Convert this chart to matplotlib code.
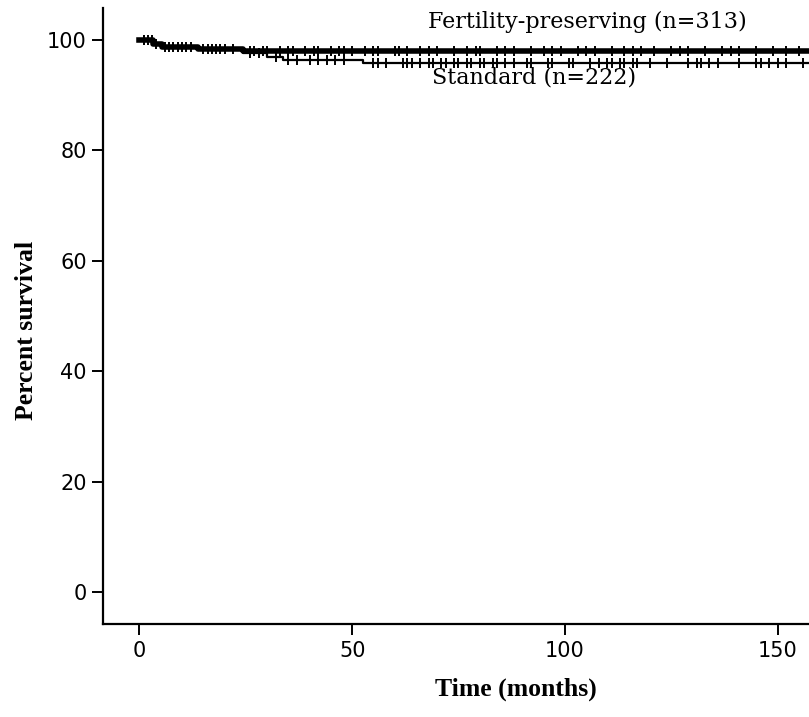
import numpy as np
import matplotlib.pyplot as plt

# Kaplan-Meier step curves (time in months, percent surviving)
fert_times = [0, 3.2, 5.3, 13.8, 24.4, 160]
fert_surv = [100, 99.3, 98.8, 98.3, 98.0, 98.0]
std_times = [0, 3.2, 5.3, 13.8, 24.4, 30.0, 33.8, 52.6, 160]
std_surv = [100, 99.3, 98.8, 98.3, 97.6, 97.0, 96.4, 95.8, 95.8]

# censored observations
fert_cens = [1, 2, 4, 7, 8, 9, 11, 12, 16, 17, 18, 20, 22, 26, 27, 29, 30,
             33, 35, 36, 39, 41, 42, 45, 47, 48, 50, 53, 55, 56, 60, 61, 63,
             66, 68, 70, 74, 77, 79, 80, 84, 86, 88, 92, 95, 97, 99, 103, 105,
             107, 111, 114, 116, 118, 121, 125, 127, 129, 133, 137, 139, 141,
             145, 149, 152, 155]
std_cens = [1, 3, 6, 10, 15, 19, 26, 28, 32, 35, 37, 40, 42, 44, 46, 48, 55,
            56, 58, 62, 63, 64, 66, 68, 69, 71, 72, 74, 75, 77, 78, 80, 81,
            83, 84, 86, 88, 91, 92, 96, 97, 101, 102, 106, 108, 110, 111, 113,
            114, 116, 117, 120, 124, 129, 131, 132, 134, 136, 141, 145, 146,
            148, 150, 152, 156]

x_ticks = [0, 50, 100, 150]
y_ticks = [0, 20, 40, 60, 80, 100]
labels = ['Fertility-preserving (n=313)', 'Standard (n=222)']

tick_font = ['DejaVu Sans Condensed', 'Liberation Sans Narrow', 'DejaVu Sans']


def surv_at(times, surv, t):
    idx = np.searchsorted(times, t, side='right') - 1
    return np.array(surv)[idx]


fig = plt.figure(figsize=(8.09, 7.17), dpi=100)
ax = fig.add_axes([0.1277, 0.1297, 0.8723, 0.8591])

ax.step(std_times, std_surv, where='post', color='black', lw=1.6)
ax.plot(std_cens, surv_at(std_times, std_surv, std_cens), linestyle='none',
        marker='|', color='black', markersize=7, markeredgewidth=1.4)
ax.step(fert_times, fert_surv, where='post', color='black', lw=4)
ax.plot(fert_cens, surv_at(fert_times, fert_surv, fert_cens), linestyle='none',
        marker='|', color='black', markersize=7, markeredgewidth=1.4)

ax.text(67.9, 103.2, labels[0], family='DejaVu Serif', fontsize=16,
        ha='left', va='center')
ax.text(68.8, 93.3, labels[1], family='DejaVu Serif', fontsize=16,
        ha='left', va='center')

ax.set_xlim(-8.5, 157.4)
ax.set_ylim(-5.8, 105.8)
ax.set_xticks(x_ticks)
ax.set_yticks(y_ticks)
for spine in ['top', 'right']:
    ax.spines[spine].set_visible(False)
for spine in ['left', 'bottom']:
    ax.spines[spine].set_linewidth(1.6)
ax.tick_params(direction='out', length=8, width=1.4, pad=4)
for lab in ax.get_xticklabels() + ax.get_yticklabels():
    lab.set_family(tick_font)
    lab.set_fontsize(15)

ax.set_xlabel('Time (months)', family='Liberation Serif', fontweight='bold',
              fontsize=18.5)
ax.set_ylabel('Percent survival', family='Liberation Serif', fontweight='bold',
              fontsize=18.5)
ax.xaxis.set_label_coords(0.585, -0.087)
ax.yaxis.set_label_coords(-0.092, 0.477)

fig.savefig('out.png', dpi=100)
